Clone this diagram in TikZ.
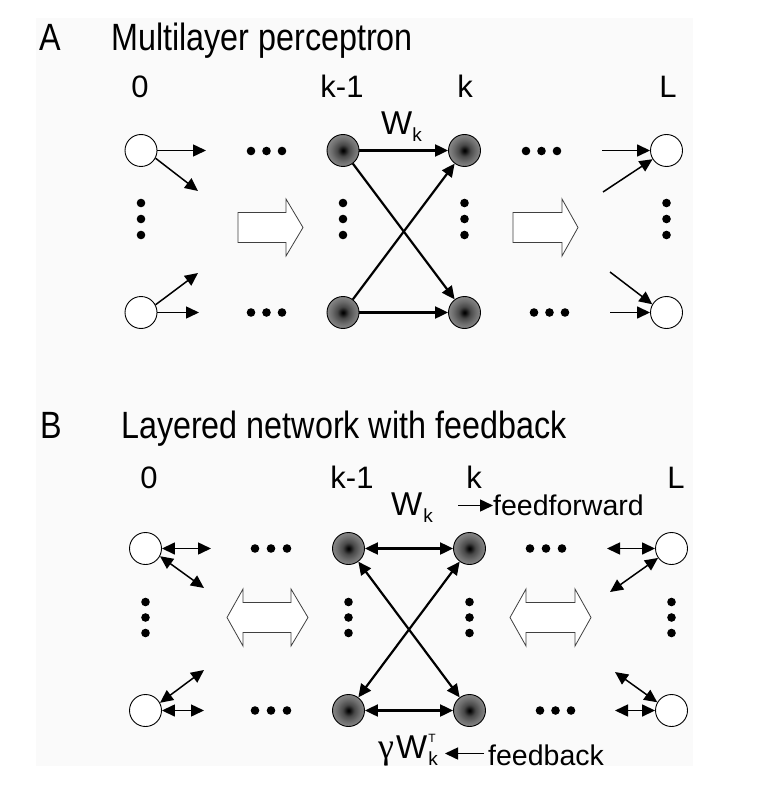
\documentclass[tikz,border=0pt]{standalone}
\usepackage{fontspec}
\setmainfont{Liberation Sans}
\newfontfamily\titlefont[FakeStretch=0.85]{Liberation Sans}
\newfontfamily\greekfont{Liberation Serif}
\usetikzlibrary{arrows.meta}
\pgfdeclareradialshading{ballshade}{\pgfpointorigin}{color(0bp)=(black); color(2bp)=(black!97); color(9bp)=(black!72); color(17bp)=(black!58); color(25bp)=(black!47); color(50bp)=(black!47)}
\tikzset{
  plain/.style={circle, draw, line width=0.9pt, fill=white, minimum size=32pt, inner sep=0pt},
  hidden/.style={circle, draw, line width=0.9pt, shading=ballshade, minimum size=32pt, inner sep=0pt},
  tip/.tip={Triangle[length=13pt,width=12pt]},
  conn/.style={line width=1.5pt, -tip},
  bigconn/.style={line width=2.2pt, -tip},
  dconn/.style={line width=1.5pt, tip-tip},
  bigdconn/.style={line width=2.2pt, tip-tip},
  hollow/.style={draw=black!75, line width=0.8pt, fill=white, line join=miter},
  ttl/.style={anchor=base west, inner sep=0pt, font={\titlefont\fontsize{38pt}{40pt}\selectfont}},
  lbl/.style={anchor=base, inner sep=0pt, font={\fontsize{31pt}{34pt}\selectfont}},
  txt/.style={anchor=base west, inner sep=0pt, font={\fontsize{28.5pt}{31pt}\selectfont}},
  wlbl/.style={anchor=base west, inner sep=0pt, font={\fontsize{33pt}{36pt}\selectfont}},
  dot/.style={fill=black}
}
\newcommand{\subk}{\raisebox{-7pt}{\fontsize{19pt}{20pt}\selectfont k}}
\begin{document}
\begin{tikzpicture}[x=1pt,y=-1pt]
\useasboundingbox (0,0) rectangle (776,794);
\fill[black!2] (36,18) rectangle (693,766);

% ================= Panel A =================
\node[ttl] (tA) at (39,51) {A};
\node[ttl] (tAt) at (111,51) {Multilayer perceptron};
\node[lbl] (lA0) at (140,98) {0};
\node[lbl] (lAk1) at (342,98) {k-1};
\node[lbl] (lAk) at (465,98) {k};
\node[lbl] (lAL) at (668,98) {L};

\node[plain]  (a0t) at (141,150.5) {};
\node[plain]  (a0b) at (141,312.5) {};
\node[hidden] (a1t) at (343,150.5) {};
\node[hidden] (a1b) at (343,312.5) {};
\node[hidden] (a2t) at (464.5,150.5) {};
\node[hidden] (a2b) at (464.5,312.5) {};
\node[plain]  (aLt) at (666.5,150.5) {};
\node[plain]  (aLb) at (666.5,312.5) {};

\node[wlbl] (wA) at (381,135) {W\subk};

% dots
\foreach \x in {251,266.5,282} {\fill[dot] (\x,151) circle (4.3pt); \fill[dot] (\x,312.5) circle (4.3pt);}
\foreach \x in {526,541.5,557} {\fill[dot] (\x,151) circle (4.3pt);}
\foreach \x in {534,549.5,565} {\fill[dot] (\x,312.5) circle (4.3pt);}
\foreach \x in {141,343,464.5,666.5} {\foreach \y in {203,219,235} {\fill[dot] (\x,\y) circle (4.3pt);}}

% hollow arrows
\draw[hollow] (238,212.5) -- (286,212.5) -- (286,199) -- (303,227.5) -- (286,256) -- (286,242.5) -- (238,242.5) -- cycle;
\draw[hollow] (513,212.5) -- (562,212.5) -- (562,199) -- (578,227.5) -- (562,256) -- (562,242.5) -- (513,242.5) -- cycle;

% layer 0 outputs
\coordinate (ea1) at (206,150.5);
\coordinate (ea2) at (198,191);
\coordinate (ea3) at (198,273);
\coordinate (ea4) at (199,312.5);
\draw[conn] (a0t.east) -- (ea1);
\draw[conn] (a0t.-28) -- (ea2);
\draw[conn] (a0b.28) -- (ea3);
\draw[conn] (a0b.east) -- (ea4);
% layer L inputs
\coordinate (eb1) at (602,150.5);
\coordinate (eb2) at (603,192);
\coordinate (eb3) at (610,272);
\coordinate (eb4) at (610,312.5);
\draw[conn] (eb1) -- (aLt.west);
\draw[conn] (eb2) -- (aLt.212);
\draw[conn] (eb3) -- (aLb.150);
\draw[conn] (eb4) -- (aLb.west);
% middle
\draw[bigconn] (a1t) -- (a2t);
\draw[bigconn] (a1t) -- (a2b);
\draw[bigconn] (a1b) -- (a2t);
\draw[bigconn] (a1b) -- (a2b);

% ================= Panel B =================
\node[ttl] (tB) at (40,438) {B};
\node[ttl] (tBt) at (121,438) {Layered network with feedback};
\node[lbl] (lB0) at (149,488) {0};
\node[lbl] (lBk1) at (352,488) {k-1};
\node[lbl] (lBk) at (474,488) {k};
\node[lbl] (lBL) at (676,488) {L};

\node[plain]  (b0t) at (145.5,548.5) {};
\node[plain]  (b0b) at (145.5,710.5) {};
\node[hidden] (b1t) at (348.5,548.5) {};
\node[hidden] (b1b) at (348.5,710.5) {};
\node[hidden] (b2t) at (469.5,548.5) {};
\node[hidden] (b2b) at (469.5,710.5) {};
\node[plain]  (bLt) at (671.5,548.5) {};
\node[plain]  (bLb) at (671.5,710.5) {};

% labels feedforward / feedback
\node[wlbl] (wB) at (391,515) {W\kern1pt\subk};
\node[txt] (ffB) at (493,515) {feedforward};
\coordinate (ffa) at (458,505.5);
\coordinate (ffb) at (493,505.5);
\draw[line width=1.5pt, -tip] (ffa) -- (ffb);

\node[wlbl] (gB) at (378,758)
  {{\greekfont\fontsize{36pt}{36pt}\selectfont γ}\kern2pt W\kern1pt\rlap{\raisebox{16pt}{\fontsize{12pt}{12pt}\selectfont T}}\subk};
\node[txt] (fbB) at (488,765) {feedback};
\coordinate (fba) at (484,753.5);
\coordinate (fbb) at (445,753.5);
\draw[line width=1.5pt, -tip] (fba) -- (fbb);

% dots
\foreach \x in {255,271,287} {\fill[dot] (\x,548.5) circle (4.3pt); \fill[dot] (\x,710.5) circle (4.3pt);}
\foreach \x in {530,546,562} {\fill[dot] (\x,548.5) circle (4.3pt);}
\foreach \x in {540,555.5,571} {\fill[dot] (\x,710.5) circle (4.3pt);}
\foreach \x in {145.5,348.5,469.5,671.5} {\foreach \y in {602,617.5,633} {\fill[dot] (\x,\y) circle (4.3pt);}}

% hollow double arrows
\draw[hollow] (227,617.5) -- (243,589) -- (243,602.5) -- (291,602.5) -- (291,589) -- (308,617.5) -- (291,646) -- (291,632.5) -- (243,632.5) -- (243,646) -- cycle;
\draw[hollow] (510,617.5) -- (526,589) -- (526,602.5) -- (575,602.5) -- (575,589) -- (591,617.5) -- (575,646) -- (575,632.5) -- (526,632.5) -- (526,646) -- cycle;

% layer 0 links
\coordinate (ec1) at (211,548.5);
\coordinate (ec2) at (204,588);
\coordinate (ec3) at (204,670);
\coordinate (ec4) at (204,710.5);
\draw[dconn] (b0t.east) -- (ec1);
\draw[dconn] (b0t.-28) -- (ec2);
\draw[dconn] (b0b.28) -- (ec3);
\draw[dconn] (b0b.east) -- (ec4);
% layer L links
\coordinate (ed1) at (607,548.5);
\coordinate (ed2) at (610,592);
\coordinate (ed3) at (615,672);
\coordinate (ed4) at (615,710.5);
\draw[dconn] (ed1) -- (bLt.west);
\draw[dconn] (ed2) -- (bLt.215);
\draw[dconn] (ed3) -- (bLb.150);
\draw[dconn] (ed4) -- (bLb.west);
% middle
\draw[bigdconn] (b1t) -- (b2t);
\draw[bigdconn] (b1t) -- (b2b);
\draw[bigdconn] (b1b) -- (b2t);
\draw[bigdconn] (b1b) -- (b2b);
\end{tikzpicture}
\end{document}
